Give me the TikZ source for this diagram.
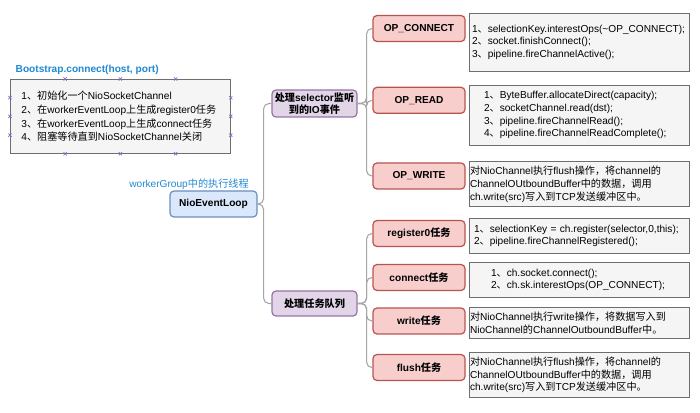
\documentclass[tikz,border=0pt]{standalone}
\usepackage{fontspec}
\setmainfont{Liberation Sans}
\newfontfamily\zhfont{Noto Sans CJK SC}
\newcommand{\zh}[1]{{\zhfont #1}}
\usetikzlibrary{positioning,calc}

\definecolor{redfill}{RGB}{248,206,204}
\definecolor{reddraw}{RGB}{184,84,80}
\definecolor{purplefill}{RGB}{225,213,231}
\definecolor{purpledraw}{RGB}{150,115,166}
\definecolor{bluefill}{RGB}{218,232,252}
\definecolor{bluedraw}{RGB}{108,142,191}
\definecolor{grayfill}{RGB}{245,245,245}
\definecolor{graydraw}{RGB}{110,110,110}
\definecolor{branchgray}{RGB}{165,165,165}
\definecolor{labelblue}{RGB}{30,136,210}
\definecolor{handleblue}{RGB}{120,110,205}

\begin{document}
\begin{tikzpicture}
[x=0.75pt, y=-0.75pt, font=\fontsize{7.6}{9.6}\selectfont,
 redbox/.style={rectangle, draw=reddraw, fill=redfill, line width=0.9pt, rounded corners=3pt, minimum width=69pt, minimum height=19.5pt, inner sep=1pt, font=\fontsize{7.6}{9.6}\selectfont\bfseries},
 purplebox/.style={rectangle, draw=purpledraw, fill=purplefill, line width=0.9pt, rounded corners=3pt, minimum width=63.75pt, inner sep=1pt, align=center, font=\fontsize{7.6}{9.2}\selectfont\bfseries},
 bluebox/.style={rectangle, draw=bluedraw, fill=bluefill, line width=0.9pt, rounded corners=3pt, minimum width=65.25pt, minimum height=19.5pt, inner sep=1pt, font=\fontsize{7.6}{9.6}\selectfont\bfseries},
 textbox/.style={rectangle, draw=graydraw, fill=grayfill, line width=0.6pt, inner xsep=0.75pt, inner ysep=0pt, text width=163.5pt, align=left, execute at begin node={\leftskip=#1}},
 textbox/.default=0pt,
 branch/.style={draw=branchgray, line width=0.8pt, rounded corners=4pt},
 handlemark/.style={draw=handleblue, line width=0.5pt}]

\useasboundingbox (0,0) rectangle (700,413);

%Nodes
\node[anchor=west, text=labelblue, font=\fontsize{7.6}{9.6}\selectfont\bfseries] (boot) at (11,70) {Bootstrap.connect(host, port)};
\node[textbox=7.5pt, minimum height=55.5pt, font=\fontsize{7.6}{10.3}\selectfont, anchor=north west] (connsteps) at (10,79)
  {1\zh{、初始化一个}NioSocketChannel\\
   2\zh{、在}workerEventLoop\zh{上生成}register0\zh{任务}\\
   3\zh{、在}workerEventLoop\zh{上生成}connect\zh{任务}\\
   4\zh{、阻塞等待直到}NioSocketChannel\zh{关闭}};

\node[text=labelblue, inner sep=0pt] (workerlabel) at (189,184) {workerGroup\zh{中的执行线程}};
\node[bluebox] (loop) at (213.5,204) {NioEventLoop};

\node[purplebox, minimum height=20.25pt] (ioevents) at (314.5,103.5) {\zh{处理}selector\zh{监听}\\\zh{到的}IO\zh{事件}};
\node[purplebox, minimum height=18.75pt] (taskqueue) at (314.5,303.5) {\zh{处理任务队列}};

\node[redbox] (opconnect) at (419,28.5) {OP\_CONNECT};
\node[redbox] (opread) at (419,100.3) {OP\_READ};
\node[redbox] (opwrite) at (419,176) {OP\_WRITE};
\node[redbox] (register) at (419,233.5) {register0\zh{任务}};
\node[redbox] (connect) at (419,277.5) {connect\zh{任务}};
\node[redbox] (write) at (419,321) {write\zh{任务}};
\node[redbox] (flush) at (419,367.5) {flush\zh{任务}};

\node[textbox=1.5pt, minimum height=43.5pt, below right=-1.5pt and 2.25pt of opconnect.north east] (opconnecttext)
  {1\zh{、}selectionKey.interestOps(\textasciitilde OP\_CONNECT);\\
   2\zh{、}socket.finishConnect();\\
   3\zh{、}pipeline.fireChannelActive();};
\node[textbox=10.5pt, minimum height=45pt, below right=-1.5pt and 2.25pt of opread.north east] (opreadtext)
  {1\zh{、}ByteBuffer.allocateDirect(capacity);\\
   2\zh{、}socketChannel.read(dst);\\
   3\zh{、}pipeline.fireChannelRead();\\
   4\zh{、}pipeline.fireChannelReadComplete();};
\node[textbox, minimum height=33.75pt, below right=-0.75pt and 2.25pt of opwrite.north east] (opwritetext)
  {\zh{对}NioChannel\zh{执行}flush\zh{操作，将}channel\zh{的}\\
   ChannelOUtboundBuffer\zh{中的数据，调用}\\
   ch.write(src)\zh{写入到}TCP\zh{发送缓冲区中。}};
\node[textbox=3pt, minimum height=26.25pt, below right=-1.5pt and 2.25pt of register.north east] (registertext)
  {1\zh{、}selectionKey = ch.register(selector,0,this);\\
   2\zh{、}pipeline.fireChannelRegistered();};
\node[textbox=15.75pt, minimum height=26.25pt, below right=-1.5pt and 2.25pt of connect.north east] (connecttext)
  {1\zh{、}ch.socket.connect();\\
   2\zh{、}ch.sk.interestOps(OP\_CONNECT);};
\node[textbox, minimum height=23.25pt, below right=0pt and 2.25pt of write.north east] (writetext)
  {\zh{对}NioChannel\zh{执行}write\zh{操作，将数据写入到}\\
   NioChannel\zh{的}ChannelOutboundBuffer\zh{中。}};
\node[textbox, minimum height=33.75pt, below right=-1.5pt and 2.25pt of flush.north east] (flushtext)
  {\zh{对}NioChannel\zh{执行}flush\zh{操作，将}channel\zh{的}\\
   ChannelOUtboundBuffer\zh{中的数据，调用}\\
   ch.write(src)\zh{写入到}TCP\zh{发送缓冲区中。}};

%Handles on the selected box
\foreach \f in {0.25,0.5,0.75} {
  \foreach \side/\from/\to in {top/north west/north east, bottom/south west/south east, left/north west/south west, right/north east/south east} {
    \coordinate (h-\side) at ($(connsteps.\from)!\f!(connsteps.\to)$);
    \draw[handlemark] (h-\side) +(-1.6,-1.6) -- +(1.6,1.6) +(-1.6,1.6) -- +(1.6,-1.6);
  }
}

%Lines
\draw[branch] (loop.east) -- ++(6,0) |- (ioevents.west);
\draw[branch] (loop.east) -- ++(6,0) |- (taskqueue.west);
\foreach \child in {opconnect, opread, opwrite}
  \draw[branch] (ioevents.east) -- ++(9,0) |- (\child.west);
\foreach \child in {register, connect, write, flush}
  \draw[branch] (taskqueue.east) -- ++(9,0) |- (\child.west);

\end{tikzpicture}
\end{document}
